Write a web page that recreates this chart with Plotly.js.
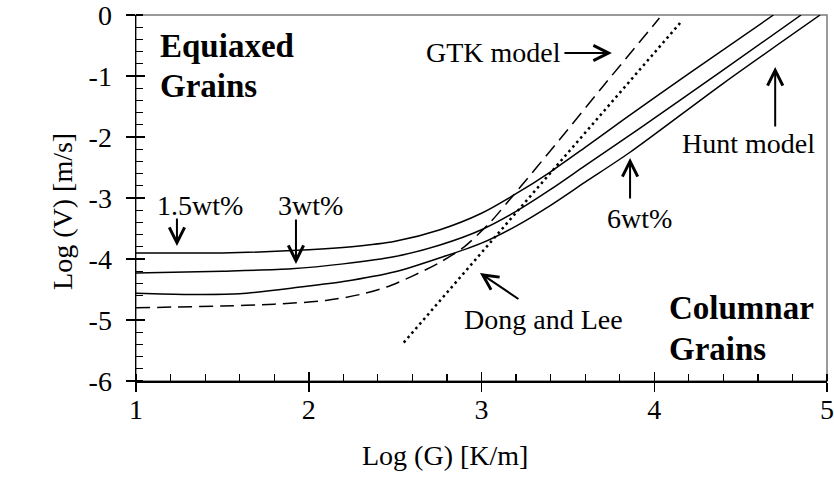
<!DOCTYPE html>
<html>
<head>
<meta charset="utf-8">
<script src="https://cdn.plot.ly/plotly-3.0.1.min.js"></script>
<style>html,body{margin:0;padding:0;background:#fff;}#chart{width:834px;height:484px;}</style>
</head>
<body>
<div id="chart"></div>
<script>
// ---- data ----
const hunt15_logG = [1.0, 1.5, 2.0, 2.25, 2.5, 2.76, 3.0, 3.2, 3.4, 3.6, 3.82, 4.2, 4.69];
const hunt15_logV = [-3.90, -3.90, -3.85, -3.80, -3.71, -3.52, -3.25, -2.93, -2.57, -2.17, -1.72, -0.96, 0.0];

const hunt3_logG = [1.0, 1.5, 1.9, 2.2, 2.5, 2.76, 3.0, 3.2, 3.4, 3.6, 3.92, 4.4, 4.85];
const hunt3_logV = [-4.23, -4.20, -4.16, -4.08, -3.96, -3.77, -3.52, -3.22, -2.86, -2.47, -1.85, -0.90, 0.0];

const hunt6_logG = [1.0, 1.3, 1.6, 1.95, 2.2, 2.5, 2.76, 3.0, 3.2, 3.4, 3.6, 3.86, 4.4, 4.96];
const hunt6_logV = [-4.56, -4.58, -4.57, -4.46, -4.37, -4.21, -3.98, -3.74, -3.46, -3.12, -2.74, -2.25, -1.12, 0.0];

const gtk_logG = [1.0, 1.5, 1.8, 2.1, 2.3, 2.45, 2.6, 2.75, 2.9, 3.05, 3.18, 3.45, 3.7, 4.03];
const gtk_logV = [-4.80, -4.77, -4.74, -4.68, -4.58, -4.46, -4.28, -4.07, -3.80, -3.40, -2.97, -2.05, -1.18, -0.05];

const dongLee_logG = [2.55, 4.15];
const dongLee_logV = [-5.37, -0.13];

const xTickVals = [1, 2, 3, 4, 5];
const xTickText = ['1', '2', '3', '4', '5'];
const yTickVals = [0, -1, -2, -3, -4, -5, -6];
const yTickText = ['0', '-1', '-2', '-3', '-4', '-5', '-6'];

const xTitle = 'Log (G) [K/m]';
const yTitle = 'Log (V) [m/s]';

// ---- chart ----
const FONT = 'Liberation Serif';
const solid = {color: 'black', width: 1.5, shape: 'spline', smoothing: 0.8};

const traces = [
  {x: hunt15_logG, y: hunt15_logV, mode: 'lines', line: solid, name: '1.5wt%'},
  {x: hunt3_logG, y: hunt3_logV, mode: 'lines', line: solid, name: '3wt%'},
  {x: hunt6_logG, y: hunt6_logV, mode: 'lines', line: solid, name: '6wt%'},
  {x: gtk_logG, y: gtk_logV, mode: 'lines', line: {color: 'black', width: 1.5, dash: '14px,7px', shape: 'spline', smoothing: 0.8}, name: 'GTK model'},
  {x: dongLee_logG, y: dongLee_logV, mode: 'lines', line: {color: 'black', width: 2.5, dash: '2.5px,3.5px'}, name: 'Dong and Lee'},
  {x: [], y: [], xaxis: 'x2', yaxis: 'y2', mode: 'lines', showlegend: false, hoverinfo: 'skip'}
];

function txt(text, x, y, opts) {
  return Object.assign({text: text, x: x, y: y, xref: 'x', yref: 'y', showarrow: false,
    xanchor: 'center', yanchor: 'middle', font: {family: FONT, size: 28, color: 'black'}}, opts || {});
}
function arrow(x, y, ax, ay) {
  return {text: '', x: x, y: y, xref: 'x', yref: 'y', ax: ax, ay: ay, showarrow: true,
    arrowhead: 5, arrowsize: 1.5, arrowwidth: 2, arrowcolor: 'black', standoff: 0, startstandoff: 0};
}
const bold = {family: FONT, size: 33, color: 'black', weight: 'bold'};

const annotations = [
  txt('<b>Equiaxed</b>', 1.127, -0.51, {xanchor: 'left', font: bold}),
  txt('<b>Grains</b>', 1.127, -1.16, {xanchor: 'left', font: bold}),
  txt('<b>Columnar</b>', 4.074, -4.80, {xanchor: 'left', font: bold}),
  txt('<b>Grains</b>', 4.074, -5.48, {xanchor: 'left', font: bold}),
  txt('GTK model', 3.072, -0.61),
  arrow(3.755, -0.623, -49, 0),
  txt('Hunt model', 4.546, -2.10),
  arrow(4.70, -0.852, 0, 61),
  txt('6wt%', 3.912, -3.344),
  arrow(3.860, -2.344, 0, 42),
  txt('Dong and Lee', 3.359, -4.984),
  arrow(2.991, -4.23, 40, 27),
  txt('1.5wt%', 1.370, -3.115),
  arrow(1.237, -3.787, 0, -29),
  txt('3wt%', 2.010, -3.115),
  arrow(1.926, -4.082, 0, -46),
  {text: xTitle, xref: 'paper', yref: 'paper', x: (444.5 - 136) / 691, y: -(455 - 381) / 366,
   xanchor: 'center', yanchor: 'middle', showarrow: false, font: {family: FONT, size: 28, color: 'black'}},
  {text: yTitle, xref: 'paper', yref: 'paper', x: -(136 - 63) / 691, y: 0.462, textangle: -90,
   xanchor: 'center', yanchor: 'middle', showarrow: false, font: {family: FONT, size: 28, color: 'black'}}
];

const axisCommon = {showgrid: false, zeroline: false, tickcolor: 'black', tickwidth: 1.5,
  linecolor: 'black', linewidth: 1.5, showline: true, ticklabeloverflow: 'allow',
  tickfont: {family: FONT, size: 28, color: 'black'}};

const layout = {
  width: 834, height: 484,
  margin: {l: 136, r: 7, t: 15, b: 103, pad: 0},
  paper_bgcolor: 'white', plot_bgcolor: 'white',
  showlegend: false,
  font: {family: FONT, color: 'black'},
  xaxis: Object.assign({}, axisCommon, {range: [1, 5], tickmode: 'array', tickvals: xTickVals, ticktext: xTickText,
    ticks: 'outside', ticklen: 9, ticklabelstandoff: -6,
    minor: {dtick: 0.2, tick0: 1, ticks: 'inside', ticklen: 7, tickcolor: 'black', tickwidth: 1.2, showgrid: false}}),
  yaxis: Object.assign({}, axisCommon, {range: [-6, 0], tickmode: 'array', tickvals: yTickVals, ticktext: yTickText,
    ticks: 'outside', ticklen: 9, ticklabelstandoff: 8,
    minor: {dtick: 0.2, tick0: 0, ticks: 'inside', ticklen: 7, tickcolor: 'black', tickwidth: 1.2, showgrid: false}}),
  xaxis2: {overlaying: 'x', anchor: 'y', side: 'bottom', range: [1, 5], tickmode: 'array', tickvals: xTickVals,
    ticks: 'inside', ticklen: 9, tickwidth: 1.5, tickcolor: 'black', showticklabels: false, showline: false,
    showgrid: false, zeroline: false},
  yaxis2: {overlaying: 'y', anchor: 'x', side: 'left', range: [-6, 0], tickmode: 'array', tickvals: yTickVals,
    ticks: 'inside', ticklen: 9, tickwidth: 1.5, tickcolor: 'black', showticklabels: false, showline: false,
    showgrid: false, zeroline: false},
  shapes: [{type: 'rect', xref: 'paper', yref: 'paper', x0: 0, x1: 1, y0: 0, y1: 1, layer: 'below',
    line: {color: '#7a7a7a', width: 1.5}}],
  annotations: annotations
};

Plotly.newPlot('chart', traces, layout, {staticPlot: true, displayModeBar: false});
</script>
</body>
</html>
